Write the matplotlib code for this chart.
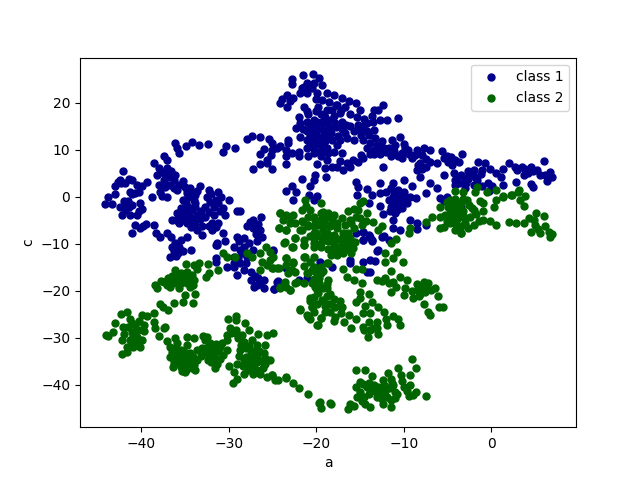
import matplotlib
matplotlib.use("Agg")
import matplotlib.pyplot as plt
import numpy as np

# points as (a, c)
class1 = [
    # far left group
    (-44.1,-1.5),(-43.3,-1.5),(-43.8,0.0),(-43.0,0.5),(-43.0,2.3),(-42.7,3.2),(-42.4,3.6),(-42.1,5.5),
    (-41.4,3.8),(-41.1,3.5),(-40.5,2.5),(-39.3,3.1),(-39.9,2.3),(-41.3,1.1),(-40.7,0.8),(-40.2,1.1),
    (-41.0,0.5),(-40.1,-1.4),(-41.9,-1.4),(-42.4,-2.1),(-41.4,-2.1),(-42.2,-3.8),(-41.3,-3.8),(-40.5,-3.8),
    (-39.9,-2.5),(-40.3,-3.0),(-41.8,-2.8),(-42.0,-1.0),(-41.5,-1.0),(-41.0,-1.7),(-42.3,2.9),(-41.9,3.0),
    (-41.1,-7.6),(-40.7,-6.1),(-40.1,-6.7),(-39.5,-5.8),(-38.5,-6.0),(-39.8,-6.2),(-38.3,-7.8),(-37.8,-8.6),
    (-37.0,-7.6),(-36.6,-8.5),(-35.5,-9.2),(-34.8,-8.6),(-36.5,-10.6),(-35.7,-10.6),(-36.1,-9.9),
    (-36.7,-12.7),(-36.2,-11.5),(-35.8,-12.0),(-35.2,-11.5),(-35.9,-10.8),(-36.0,-12.6),(-34.3,-11.3),
    # middle left group
    (-38.5,7.2),(-37.4,8.6),(-37.0,7.9),(-38.0,6.1),(-38.2,4.7),(-37.0,6.1),(-36.1,4.7),(-36.9,4.3),
    (-38.0,2.5),(-38.8,0.0),(-37.8,1.1),(-37.0,0.0),(-37.4,3.6),(-36.7,2.5),(-35.9,1.5),(-35.2,3.3),
    (-34.4,1.8),(-33.3,2.2),(-33.8,0.4),(-34.8,0.8),(-34.0,-0.7),(-35.2,-0.7),(-34.6,-2.1),(-35.5,-2.4),
    (-33.8,-2.1),(-32.3,1.5),(-31.2,1.1),(-30.0,-0.6),(-32.5,0.0),(-31.5,-0.7),(-30.9,0.0),(-32.7,-2.1),
    (-31.7,-2.1),(-30.6,-2.4),(-30.4,-3.8),(-31.7,-3.8),(-32.7,-4.2),(-33.6,-3.8),(-34.4,-4.2),(-35.5,-4.2),
    (-36.5,-4.9),(-35.7,-5.6),(-34.8,-5.6),(-33.8,-5.6),(-33.6,-7.0),(-31.9,-5.6),(-31.2,-5.6),(-31.9,-7.0),
    (-33.1,-8.1),(-30.6,-7.8),(-30.4,-9.5),(-31.3,-10.2),(-28.7,-3.1),(-29.1,-3.1),
    (-37.7,5.3),(-37.3,4.9),(-36.6,5.5),(-36.3,3.5),(-35.7,2.6),(-35.0,2.1),(-34.8,1.4),(-34.2,0.9),(-33.6,1.3),
    (-34.6,0.0),(-33.9,-1.3),(-34.9,-1.3),(-35.3,-3.2),(-34.2,-2.9),(-34.9,-3.6),(-33.2,-3.0),(-35.9,-3.5),
    (-36.0,-5.0),(-35.2,-4.9),(-34.2,-5.0),(-33.3,-4.8),(-32.3,-3.3),(-32.1,-1.2),(-31.2,-1.4),(-31.0,-3.0),
    (-32.3,-6.3),(-31.5,-6.5),(-33.0,-6.2),(-34.3,-6.5),(-37.6,0.2),(-37.3,2.0),(-36.2,1.9),(-32.0,0.5),
    # arc across the top
    (-36.1,11.4),(-35.9,10.4),(-35.7,9.3),(-34.9,10.9),(-34.2,11.6),(-33.4,11.1),(-32.4,11.2),(-30.3,10.9),
    (-29.3,10.4),(-30.7,9.5),(-27.9,12.3),(-27.3,12.9),(-26.4,12.7),(-25.4,12.3),(-25.0,11.4),(-23.2,12.1),
    (-23.2,11.4),(-24.1,10.9),(-24.5,10.4),(-26.0,10.2),(-26.4,9.1),(-25.1,10.0),(-25.2,8.9),(-25.6,7.9),
    (-26.4,7.0),(-27.2,5.9),(-25.1,5.9),(-25.6,7.2),(-23.5,10.0),(-23.5,8.6),(-23.5,7.0),(-22.8,9.3),
    (-22.0,9.6),(-22.0,8.6),(-21.0,10.4),(-20.9,8.6),(-20.3,9.3),
    # top group
    (-22.8,25.1),(-22.8,23.9),(-21.5,25.8),(-20.4,26.2),(-19.7,25.3),(-21.1,24.2),(-21.6,23.2),(-20.5,23.2),
    (-19.3,23.7),(-19.9,22.1),(-21.1,22.1),(-21.8,22.1),(-22.6,21.0),(-23.3,21.7),(-23.9,20.7),(-24.1,20.0),
    (-23.3,19.2),(-23.0,20.3),(-18.8,22.1),(-21.4,19.2),(-19.8,19.2),(-21.0,18.2),
    (-22.3,14.6),(-21.8,15.7),(-20.9,17.5),(-20.3,16.4),(-19.5,17.5),(-18.8,18.5),(-21.1,16.0),(-20.3,15.0),
    (-19.5,15.0),(-18.8,15.7),(-20.3,13.9),(-21.1,13.9),(-21.8,12.8),(-19.5,12.8),(-18.8,12.8),(-20.3,12.1),
    (-21.1,12.1),(-19.5,11.1),(-20.3,10.4),(-18.8,10.4),(-19.5,8.6),(-18.8,7.9),(-19.9,7.0),(-19.0,6.1),
    (-20.1,4.7),(-20.3,3.6),(-20.7,2.4),(-18.9,4.2),(-21.6,3.8),(-22.8,2.4),(-23.5,1.3),(-22.3,1.0),
    (-22.6,-0.7),(-20.8,0.4),(-19.9,0.1),(-20.3,-0.7),
    (-20.0,18.2),(-19.0,17.0),(-18.3,16.3),(-20.7,15.3),(-19.9,16.0),(-19.2,16.2),(-18.5,14.6),(-19.0,14.0),
    (-19.8,14.4),(-20.7,13.0),(-20.0,13.1),(-19.1,13.3),(-18.3,13.6),(-18.2,12.0),(-19.0,11.8),(-19.8,11.7),
    (-20.7,11.2),(-18.6,9.3),(-19.4,9.8),(-17.7,14.8),(-17.5,13.0),(-17.3,12.0),(-17.9,15.6),(-17.0,14.5),
    (-16.6,15.3),(-16.5,12.5),(-17.2,18.5),(-17.7,19.6),(-18.5,20.2),(-19.3,20.6),(-20.0,20.8),(-20.7,23.5),
    (-21.4,23.4),(-20.2,24.3),(-22.0,17.0),(-21.5,14.4),
    # upper middle
    (-18.0,21.7),(-17.1,21.0),(-16.3,20.3),(-15.5,20.0),(-17.6,19.6),(-16.7,19.2),(-18.2,18.5),(-17.3,17.8),
    (-16.1,17.5),(-15.0,18.5),(-13.4,18.5),(-12.4,19.6),(-12.9,18.5),(-13.6,17.1),(-12.7,16.4),(-11.9,16.4),
    (-10.6,16.8),(-18.0,17.1),(-17.1,16.0),(-16.1,15.0),(-15.2,15.3),(-14.2,15.7),(-13.4,14.3),(-14.2,13.9),
    (-15.0,14.3),(-15.7,13.9),(-16.7,13.6),(-15.7,12.1),(-14.6,12.1),(-13.8,11.4),(-14.2,10.4),(-13.4,10.0),
    (-12.5,11.8),(-11.3,12.1),(-10.4,12.7),(-11.0,11.1),(-12.3,10.4),(-11.7,10.4),(-12.7,9.0),(-11.5,8.6),
    (-10.6,8.6),(-9.8,10.4),(-9.4,9.0),(-8.5,9.9),(-7.7,10.4),(-7.0,9.9),(-9.1,8.2),(-10.2,8.2),
    (-13.4,9.0),(-14.6,8.2),(-15.2,7.5),(-16.1,6.4),(-16.9,5.7),(-17.6,6.4),(-18.2,6.4),(-17.1,9.3),
    (-18.0,9.6),(-17.6,11.0),(-12.4,6.3),
    (-15.3,16.9),(-14.5,16.6),(-13.5,15.8),(-14.7,15.0),(-14.0,13.1),(-14.9,13.1),(-13.3,12.6),(-13.0,11.0),
    (-12.6,10.1),(-12.0,9.5),(-11.1,9.7),(-10.2,9.4),(-13.9,9.2),(-14.9,8.9),(-15.8,7.8),(-16.5,7.2),(-17.3,7.6),
    (-10.0,11.3),(-9.5,10.0),(-8.7,8.8),(-7.9,8.9),
    # right arm
    (-7.4,8.0),(-8.1,7.2),(-7.5,6.4),(-8.5,5.7),(-8.1,4.3),(-6.2,7.2),(-5.6,9.7),(-5.1,8.6),(-5.4,8.2),
    (-4.1,7.9),(-3.3,9.0),(-3.7,7.5),(-4.5,6.8),(-5.4,4.7),(-4.3,5.0),(-4.1,3.6),(-3.4,4.7),(-2.0,5.7),
    (-1.5,7.5),(-0.7,7.2),(-0.1,5.9),(0.6,5.0),(1.1,4.3),(1.4,5.9),(-1.8,4.3),(-2.4,4.7),(-1.6,3.6),
    (-2.0,2.5),(2.0,7.2),(2.7,6.3),(3.5,6.4),(4.5,6.3),(3.7,4.7),(4.8,5.4),(5.6,4.7),(6.7,5.2),(7.0,4.3),
    (6.0,7.7),(6.4,3.3),(2.8,3.1),(1.4,2.5),(4.5,2.8),(4.8,2.0),(0.1,2.3),(-0.3,1.3),(-3.0,1.8),(-4.1,2.5),
    (-5.1,0.0),(-5.8,-0.3),(-5.4,-1.0),(-3.2,-0.7),(-3.4,-2.1),
    (-7.9,6.0),(-7.0,7.3),(-8.4,6.8),(-4.6,8.4),(-4.9,7.4),(-3.9,4.3),(-3.0,4.0),(-2.7,3.7),(-1.2,4.9),(-1.0,5.7),
    (-2.6,5.5),(3.0,5.6),(3.9,6.0),(4.2,5.0),(5.2,5.6),(6.2,4.6),(-2.9,3.0),(-3.7,3.0),(-0.4,3.0),(-1.1,2.4),
    # lower middle
    (-15.4,3.1),(-15.2,2.0),(-14.2,1.7),(-15.3,0.4),(-13.6,0.4),(-12.7,2.9),(-12.7,0.7),(-14.0,-1.4),
    (-11.2,2.9),(-10.0,3.6),(-9.1,2.2),(-10.6,1.5),(-11.4,1.8),(-11.2,0.0),(-10.4,0.0),(-9.3,0.0),
    (-8.6,-0.3),(-7.5,0.9),(-7.0,2.9),(-6.2,1.8),(-12.7,-1.9),(-11.5,-2.1),(-10.8,-2.8),(-9.6,-1.4),
    (-11.7,-0.7),(-10.4,-1.4),(-12.4,-3.6),(-11.2,-4.9),(-9.3,-4.9),(-8.5,-5.6),(-8.5,-6.9),(-10.4,-7.0),
    (-11.2,-6.7),(-7.4,-6.0),(-14.6,-7.4),(-14.6,-9.2),(-13.8,-8.5),(-13.6,-9.5),(-12.5,-8.5),(-12.9,-11.3),
    (-11.0,-1.4),(-10.9,-0.5),(-11.6,-3.0),(-11.0,-3.4),(-10.2,-2.4),(-9.9,-0.4),(-10.0,1.0),(-11.1,0.9),(-12.0,1.0),
    # peeking out below the green
    (-15.4,-7.7),(-14.6,-7.4),(-14.0,-8.1),(-13.6,-9.2),(-14.6,-9.2),(-12.3,-8.4),(-11.7,-9.2),(-13.1,-11.6),
    (-16.1,-13.4),(-16.1,-14.1),(-14.6,-13.8),(-13.8,-13.4),(-13.3,-13.7),(-18.2,-15.0),(-19.6,-13.8),
    (-14.2,-16.0),(-13.8,-16.0),(-24.9,-11.6),(-23.5,-15.2),(-22.0,-17.7),(-24.5,-18.1),(-24.8,-19.6),(-21.1,-17.2),
    # left of the green
    (-27.2,-4.9),(-26.3,-4.2),(-27.9,-6.3),(-27.2,-6.7),(-26.4,-7.0),(-26.2,-8.5),(-26.8,-9.5),(-29.1,-8.5),
    (-28.3,-8.8),(-31.5,-10.2),(-31.3,-9.8),(-31.5,-13.1),(-31.5,-13.8),(-30.2,-14.9),(-29.4,-14.1),(-28.7,-14.1),
    (-29.0,-16.6),(-28.3,-15.6),(-27.5,-15.9),(-27.5,-17.7),(-26.8,-18.8),(-26.0,-19.5),(-26.6,-17.3),(-26.0,-17.7),
    (-24.8,-19.7),(-24.4,-18.0),(-24.9,-11.3),(-29.4,-10.6),(-28.7,-11.3),(-27.9,-12.7),(-27.2,-11.3),(-28.3,-10.6),
    (-29.4,-12.7),(-28.9,-13.0),(-28.0,-14.0),(-29.4,-15.0),(-28.5,-12.0),(-27.7,-9.8),(-28.8,-9.5),(-26.6,-5.7),
    (-27.6,-5.3),(-26.9,-8.0),(-27.1,-19.2),(-26.4,-18.6),(-27.0,-16.8),
]

class2 = [
    # lower left group
    (-44.0,-29.4),(-43.8,-29.6),(-43.2,-28.7),(-43.0,-26.9),(-42.3,-25.0),(-41.6,-24.6),(-42.1,-27.6),(-42.0,-29.1),
    (-42.2,-30.5),(-42.2,-33.5),(-41.3,-25.9),(-40.7,-27.3),(-41.1,-28.7),(-40.5,-29.8),(-41.3,-30.5),(-41.6,-31.9),
    (-40.9,-31.9),(-40.1,-31.9),(-39.9,-30.5),(-41.6,-33.0),(-39.7,-27.3),(-39.9,-25.2),(-39.3,-25.3),(-38.5,-26.6),
    (-38.4,-28.0),(-38.0,-29.6),(-37.3,-27.6),(-37.4,-28.0),(-38.5,-24.7),(-37.9,-22.7),(-37.5,-23.4),(-36.9,-24.0),
    (-36.2,-22.5),(-35.2,-22.3),(-34.1,-22.5),(-35.0,-20.9),(-33.8,-20.7),(-34.4,-19.1),(-34.1,-18.8),
    (-41.0,-26.8),(-40.2,-26.4),(-41.5,-27.7),(-40.4,-28.4),(-40.9,-29.6),(-41.0,-31.0),(-40.4,-31.0),(-39.7,-28.6),
    # group above it
    (-38.4,-18.8),(-38.2,-19.3),(-37.4,-18.1),(-36.9,-17.3),(-36.1,-15.6),(-35.9,-17.0),(-36.7,-19.1),(-35.7,-19.5),
    (-35.2,-17.3),(-34.8,-15.9),(-34.9,-14.3),(-34.0,-14.5),(-33.4,-14.1),(-32.4,-14.3),(-34.2,-16.6),(-32.6,-17.1),
    (-32.3,-16.3),(-31.2,-15.6),(-35.5,-18.4),(-34.8,-18.4),(-34.0,-17.7),(-37.0,-18.1),(-36.3,-17.7),
    (-37.7,-18.0),(-37.0,-18.8),(-36.5,-16.8),(-36.0,-18.3),(-35.4,-16.2),(-34.6,-17.1),(-33.6,-15.4),(-36.6,-17.8),
    # big lower group
    (-37.0,-30.7),(-36.1,-30.1),(-34.8,-29.9),(-34.0,-30.1),(-32.9,-29.6),(-32.5,-29.8),(-36.7,-31.9),(-36.7,-34.0),
    (-36.3,-35.5),(-35.0,-37.2),(-33.8,-36.9),(-35.5,-36.2),(-34.8,-35.5),(-33.6,-34.8),(-34.4,-33.3),(-35.5,-32.6),
    (-35.9,-31.2),(-34.8,-31.6),(-33.6,-32.6),(-32.7,-30.5),(-32.1,-31.2),(-31.9,-32.6),(-31.0,-31.9),(-30.2,-30.5),
    (-31.7,-34.0),(-31.3,-35.5),(-31.6,-36.5),(-30.6,-33.7),(-32.7,-33.3),(-30.2,-32.6),(-36.1,-34.0),(-35.2,-34.0),
    (-34.0,-35.8),
    (-36.5,-33.0),(-36.0,-32.4),(-36.2,-35.0),(-35.6,-35.0),(-35.0,-34.6),(-34.5,-34.5),(-34.2,-36.4),(-35.3,-37.0),
    (-35.8,-33.6),(-35.1,-33.0),(-34.1,-34.0),(-33.2,-33.9),(-33.0,-32.2),(-32.4,-32.0),(-32.1,-33.8),(-31.6,-33.0),
    (-31.2,-32.8),(-31.0,-34.6),(-30.8,-31.0),(-31.5,-31.4),(-32.4,-34.8),(-32.0,-35.2),(-36.4,-36.2),(-34.9,-36.8),
    (-30.1,-25.9),(-29.2,-25.4),(-29.2,-26.2),(-28.1,-26.9),(-29.8,-28.0),(-29.2,-28.4),(-30.2,-29.4),(-28.9,-30.1),
    (-28.3,-30.8),(-27.7,-28.4),(-27.3,-30.5),(-26.6,-29.2),(-24.9,-28.9),(-25.6,-29.4),(-25.8,-31.6),(-26.8,-31.6),
    (-28.7,-32.6),(-27.5,-33.3),(-26.8,-34.0),(-26.0,-33.3),(-28.3,-34.8),(-29.1,-35.5),(-30.0,-36.0),(-29.4,-37.2),
    (-28.3,-37.6),(-27.2,-36.2),(-25.8,-35.5),(-27.2,-37.6),(-26.4,-37.6),(-25.6,-38.3),(-25.1,-38.0),(-24.4,-39.0),
    (-29.5,-39.7),(-29.0,-38.8),(-23.5,-38.4),(-22.6,-39.7),(-22.0,-40.6),(-20.9,-42.0),(-19.7,-43.8),(-19.5,-45.0),
    (-18.4,-43.8),(-19.6,-43.7),(-18.3,-44.0),
    (-29.7,-29.0),(-29.0,-29.2),(-28.6,-31.5),(-28.0,-32.2),(-27.7,-31.8),(-27.1,-32.8),(-26.5,-32.8),(-26.2,-35.0),
    (-26.8,-35.2),(-27.7,-35.5),(-28.4,-36.0),(-28.0,-34.0),(-28.8,-33.8),(-27.3,-34.6),(-26.1,-36.5),(-26.8,-36.8),
    (-27.8,-36.8),(-25.3,-34.8),(-25.9,-34.2),(-28.5,-29.4),
    # lower right group
    (-9.0,-34.6),(-8.6,-36.5),(-9.3,-38.0),(-10.3,-38.0),(-10.7,-36.5),(-11.8,-37.5),(-11.5,-38.7),(-12.4,-39.0),
    (-15.4,-36.9),(-14.4,-36.9),(-13.6,-38.2),(-15.0,-39.4),(-15.4,-40.5),(-14.2,-40.5),(-13.4,-40.1),(-12.9,-40.5),
    (-12.1,-41.2),(-11.2,-40.1),(-11.0,-41.5),(-10.0,-40.5),(-9.3,-40.1),(-9.6,-41.2),(-8.6,-41.5),(-8.9,-42.2),
    (-9.4,-42.4),(-7.4,-42.4),(-15.3,-42.6),(-16.1,-44.0),(-16.4,-45.2),(-15.7,-44.4),(-14.4,-44.0),(-13.8,-44.6),
    (-12.4,-44.0),(-11.4,-44.7),(-11.4,-43.3),(-13.0,-42.6),(-14.0,-41.9),(-11.9,-42.6),
    (-14.6,-39.8),(-14.0,-39.6),(-13.9,-41.0),(-13.3,-41.4),(-12.7,-41.8),(-12.2,-40.0),(-11.7,-40.6),(-11.3,-39.5),
    (-10.8,-42.0),(-11.0,-42.8),(-15.0,-41.5),(-14.5,-42.6),(-14.8,-43.5),(-10.2,-39.2),(-12.5,-43.0),
    (-23.5,-38.5),(-24.7,-39.0),(-25.1,-38.0),
    # central mass
    (-21.3,-0.6),(-19.5,-1.3),(-21.6,-2.8),(-20.7,-2.8),(-19.5,-3.5),(-24.1,-3.5),(-23.0,-4.2),(-23.8,-4.9),
    (-22.4,-5.6),(-21.6,-5.1),(-24.2,-6.7),(-23.4,-7.0),(-21.6,-7.0),(-20.9,-6.0),(-20.3,-6.3),(-19.5,-4.9),
    (-18.8,-4.2),(-18.0,-3.8),(-17.6,-5.6),(-18.4,-6.3),(-19.2,-7.0),(-20.0,-7.7),(-20.7,-8.4),(-21.4,-10.2),
    (-22.4,-8.8),(-22.8,-10.6),(-23.6,-9.7),(-20.3,-9.9),(-19.4,-10.6),(-18.6,-9.5),(-18.0,-8.1),(-16.9,-7.7),
    (-16.1,-8.8),(-17.1,-10.2),(-18.0,-11.6),(-17.4,-11.6),(-16.3,-10.9),(-17.6,-6.7),(-16.7,-6.0),(-16.1,-4.9),
    (-15.4,-4.2),(-15.0,-1.3),(-14.6,-1.0),(-16.4,-3.1),(-15.2,-2.8),(-14.2,-3.5),(-13.5,-5.3),(-12.5,-6.3),
    (-12.9,-7.0),(-14.8,-6.0),(-15.7,-6.7),(-18.8,-9.2),(-20.3,-12.7),(-21.3,-12.7),(-22.6,-13.8),(-23.5,-13.1),
    (-23.4,-14.5),(-25.3,-13.4),(-24.9,-15.2),(-24.5,-15.2),(-22.8,-15.6),(-21.4,-14.8),(-20.9,-16.3),(-19.7,-15.2),
    (-18.8,-14.0),(-19.5,-16.3),(-18.6,-17.7),(-19.7,-18.4),(-20.3,-17.4),(-21.4,-18.4),(-22.4,-18.4),(-23.4,-19.1),
    (-24.1,-19.1),(-23.0,-19.8),(-20.1,-19.2),(-20.3,-21.4),(-20.7,-22.1),(-18.4,-20.6),(-19.2,-22.1),(-18.0,-21.7),
    (-17.3,-22.1),(-17.1,-23.5),(-20.5,-23.5),(-21.8,-24.0),(-21.1,-25.2),(-20.3,-24.5),(-19.4,-25.7),(-20.7,-25.9),
    (-19.9,-27.3),(-17.8,-25.6),(-18.0,-26.4),(-16.8,-26.6),(-16.3,-25.2),(-16.0,-27.8),(-15.5,-25.9),(-14.6,-24.8),
    (-13.8,-24.8),(-12.9,-23.4),(-12.3,-24.6),(-14.0,-26.6),(-13.1,-26.6),(-11.9,-27.3),(-11.2,-25.4),(-10.4,-27.2),
    (-10.6,-25.9),(-14.1,-29.8),(-12.9,-29.2),(-14.6,-27.6),(-13.8,-28.4),(-15.4,-22.3),(-15.0,-21.6),(-14.0,-20.7),
    (-13.6,-22.4),(-14.4,-23.2),(-18.8,-21.2),
    (-19.8,-6.0),(-19.0,-5.7),(-18.2,-5.0),(-17.0,-4.6),(-20.2,-8.8),(-19.5,-8.6),(-18.7,-8.2),(-18.2,-9.5),
    (-17.6,-9.0),(-17.0,-8.8),(-16.4,-7.8),(-17.6,-10.7),(-18.6,-11.0),(-18.0,-10.3),(-16.7,-11.0),(-16.3,-9.8),
    (-15.6,-9.6),(-15.8,-10.8),(-16.9,-12.0),(-16.0,-12.0),(-17.6,-12.4),(-18.3,-12.3),(-16.6,-9.3),(-19.2,-3.2),
    (-20.1,-5.0),(-20.9,-4.2),(-15.7,-2.6),(-16.0,-5.6),(-15.0,-4.6),(-14.3,-5.2),(-19.8,-20.5),(-19.2,-19.5),
    (-18.8,-18.6),(-20.0,-16.0),(-20.5,-15.5),(-19.2,-15.8),(-19.9,-22.8),(-19.0,-23.2),(-18.3,-22.9),(-17.9,-23.4),
    (-17.2,-24.8),(-18.4,-24.4),(-19.0,-24.4),(-13.4,-27.8),(-14.5,-28.4),(-13.0,-27.8),(-12.0,-25.9),
    # strand into the central mass
    (-30.6,-12.0),(-30.2,-12.7),(-29.3,-12.7),(-27.9,-12.0),(-27.3,-12.9),(-26.4,-12.0),(-25.7,-10.6),(-25.3,-11.7),
    (-24.9,-12.7),(-26.2,-13.8),(-25.6,-14.5),(-26.4,-15.6),(-25.1,-15.2),(-24.3,-15.2),(-23.4,-13.1),(-23.2,-16.3),
    (-22.4,-15.9),(-22.6,-14.1),(-21.4,-12.7),(-20.7,-13.8),(-24.1,-19.3),(-23.6,-18.1),(-23.0,-19.8),(-22.2,-18.1),
    (-21.1,-16.3),(-20.3,-14.9),(-19.7,-17.3),(-19.5,-14.9),(-18.6,-14.1),(-20.5,-18.4),(-19.9,-19.8),(-18.8,-19.5),
    (-20.7,-21.6),(-19.3,-22.0),(-18.6,-22.7),(-20.5,-23.4),(-21.8,-23.9),(-20.9,-25.5),(-19.5,-25.7),(-19.8,-27.3),
    (-24.1,-3.5),(-24.2,-6.7),(-23.4,-7.0),(-23.7,-9.9),(-23.5,-3.8),(-22.6,-3.8),(-23.0,-5.6),(-21.5,-5.3),
    (-20.9,-6.3),(-21.9,-7.0),(-21.4,-9.2),(-20.3,-7.7),(-22.4,-8.8),(-22.6,-10.6),(-21.2,-2.0),(-20.3,-4.2),
    (-19.4,-4.9),(-18.6,-3.5),(-18.8,-7.7),(-19.5,-9.9),(-20.3,-10.6),(-21.4,-10.2),
    # lower right of the central mass
    (-16.9,-15.4),(-15.4,-15.4),(-14.8,-15.3),(-16.5,-17.0),(-15.7,-17.7),(-14.8,-18.4),(-15.0,-20.2),(-13.1,-17.7),
    (-12.1,-17.3),(-11.4,-15.8),(-11.7,-18.4),(-11.2,-18.1),(-11.4,-20.3),(-10.4,-17.0),(-9.6,-17.6),(-9.8,-19.5),
    (-10.0,-20.9),(-8.9,-21.6),(-8.5,-19.8),(-7.7,-18.1),(-7.2,-18.4),(-6.4,-19.3),(-7.4,-19.8),(-8.1,-20.6),
    (-7.7,-22.7),(-7.2,-24.5),(-7.0,-25.2),(-6.1,-21.1),(-6.0,-23.5),(-5.5,-23.5),(-10.8,-11.7),(-11.5,-9.9),
    (-10.9,-9.0),(-12.1,-12.0),(-11.2,-13.1),(-12.1,-13.8),(-10.1,-13.9),
    (-8.5,-18.6),(-8.0,-19.2),(-7.6,-20.2),(-9.0,-20.0),(-8.3,-21.0),(-6.9,-19.8),(-12.5,-18.0),(-10.9,-19.1),
    # right arm
    (-7.5,-5.3),(-9.3,-6.7),(-9.4,-7.8),(-6.8,-4.2),(-5.8,-2.1),(-5.3,-3.8),(-5.8,-6.7),(-4.7,-5.6),(-4.1,-7.0),
    (-3.5,-7.7),(-4.3,-2.8),(-3.5,-1.3),(-2.8,-0.6),(-3.2,-3.1),(-2.4,-4.2),(-2.0,-6.0),(-1.3,-1.0),(-0.9,-3.1),
    (-0.1,-5.2),(0.6,-6.0),(-4.7,-0.6),(-2.0,-2.8),(-0.9,-4.9),(0.6,-0.6),(1.4,0.1),(2.0,-5.4),(2.8,-5.6),(3.7,-5.6),
    (4.3,-4.5),(5.1,-3.5),(6.0,-4.0),(4.5,-7.5),(5.6,-7.8),(6.1,-6.2),(6.6,-7.4),(7.0,-8.0),(6.7,-8.6),(2.3,0.4),
    (3.3,-0.6),(3.9,0.1),(3.8,-1.9),(3.1,1.1),(-4.1,1.3),(-3.2,1.0),(-1.6,2.0),(-1.9,1.1),(-0.5,1.0),(0.5,1.5),
    (1.4,0.0),(2.4,0.4),(3.2,1.5),(-3.2,-0.4),(-4.1,-0.4),(-5.1,-1.1),(-0.9,-1.4),(0.3,-2.1),(-2.2,-2.4),(-4.7,-3.5),
    (-5.8,-4.2),(-5.4,-6.4),(-3.5,-7.8),(-4.4,-5.0),(-3.8,-4.5),(-3.0,-5.5),
    (-4.9,-2.2),(-4.2,-1.6),(-3.6,-2.4),(-3.9,-3.5),(-3.1,-4.3),(-4.5,-4.3),(-5.0,-5.2),(-3.4,-6.2),(-2.7,-6.6),
    (-4.0,-5.8),(-2.5,-1.7),(-1.7,-3.6),(-1.4,-5.1),(5.0,-6.0),(5.4,-6.8),(4.9,-4.9),
]

class1 = np.array(class1)
class2 = np.array(class2)

fig, ax = plt.subplots()
ax.scatter(class1[:,0], class1[:,1], s=25, color="DarkBlue", label="class 1")
ax.scatter(class2[:,0], class2[:,1], s=25, color="DarkGreen", label="class 2")
ax.set_xlabel("a")
ax.set_ylabel("c")
ax.set_xlim(-47, 9.7)
ax.set_ylim(-49, 29.6)
ax.legend(loc="upper right")
plt.savefig("out.png", dpi=100)
